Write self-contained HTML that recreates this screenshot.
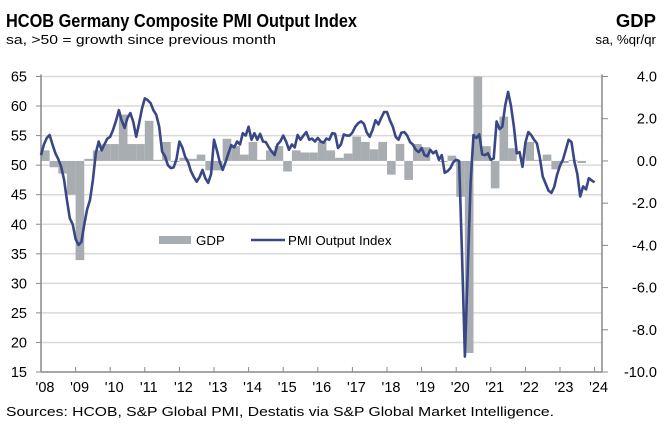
<!DOCTYPE html>
<html><head><meta charset="utf-8"><style>
body{margin:0;background:#fff;}
svg text{font-family:"Liberation Sans",Arial,sans-serif;fill:#000;}
</style></head><body>
<svg id="chart" width="664" height="435" viewBox="0 0 664 435" xmlns="http://www.w3.org/2000/svg">
<text x="6" y="27" font-size="18.5" font-weight="bold" textLength="351" lengthAdjust="spacingAndGlyphs">HCOB Germany Composite PMI Output Index</text>
<text x="6" y="44" font-size="13.3" textLength="270" lengthAdjust="spacingAndGlyphs">sa, &gt;50 = growth since previous month</text>
<text x="656" y="27" font-size="18.5" font-weight="bold" text-anchor="end">GDP</text>
<text x="656" y="44" font-size="13.3" text-anchor="end">sa, %qr/qr</text>
<g id="grid"></g><g id="bars"></g><g id="axes"></g><g id="line"></g><g id="legend"></g>
<text x="6" y="416" font-size="13.3" textLength="548" lengthAdjust="spacingAndGlyphs">Sources: HCOB, S&amp;P Global PMI, Destatis via S&amp;P Global Market Intelligence.</text>
</svg>
<script>
const yearLabels=["'08","'09","'10","'11","'12","'13","'14","'15","'16","'17","'18","'19","'20","'21","'22","'23","'24"];
const leftTicks=[15,20,25,30,35,40,45,50,55,60,65];
const rightTicks=[-10,-8,-6,-4,-2,0,2,4];
const rightTickLabels=["-10.0","-8.0","-6.0","-4.0","-2.0","0.0","2.0","4.0"];
const pmi=[
51.7,53.5,54.6,55.1,53.5,52.0,51.0,49.7,47.5,44.0,41.0,40.0,
37.5,36.5,37.0,40.0,42.5,44.1,47.5,52.0,54.0,52.5,53.5,54.5,
54.8,56.0,57.5,59.3,57.5,56.3,58.0,58.8,57.3,54.8,57.0,59.5,
61.3,61.0,60.5,59.3,58.5,56.5,52.3,51.5,50.0,49.5,49.6,51.0,
54.0,53.0,51.4,50.5,49.0,48.0,47.2,48.0,49.2,47.8,47.0,48.5,
54.3,52.5,50.5,49.2,50.5,52.0,53.4,53.0,54.0,53.5,55.4,55.0,
56.5,54.3,55.4,54.3,55.3,54.0,53.9,53.0,52.3,51.7,53.5,54.0,
55.0,54.0,52.6,53.5,53.0,55.1,54.3,55.0,55.6,54.3,54.5,54.0,
54.6,54.0,53.8,54.5,54.3,55.4,55.3,52.9,53.5,55.2,55.0,55.0,
55.5,56.5,57.1,57.4,57.0,55.5,54.8,56.0,57.6,56.9,58.0,59.0,
59.0,57.6,56.5,54.8,54.3,55.5,55.6,55.0,53.9,53.5,52.6,52.2,
52.9,51.7,51.5,52.6,52.0,52.4,50.9,51.7,48.7,49.0,49.5,50.5,
50.9,50.7,35.0,17.6,32.0,47.0,55.1,54.6,55.2,51.8,51.7,52.0,
50.9,51.1,57.4,56.1,56.5,60.1,62.4,60.0,56.5,52.0,52.2,49.7,
53.8,55.6,55.1,54.3,53.7,51.3,48.1,46.9,45.7,45.3,46.3,48.4,
49.9,50.9,52.6,54.3,53.9,50.6,48.5,44.7,46.4,45.9,47.8,47.4,
47.1];
const gdp=[
0.5,-0.3,-0.6,-1.6,
-4.7,0.1,0.5,0.8,
0.8,2.2,0.8,0.8,
1.9,0.05,0.9,-0.05,
0.15,0.1,0.3,-0.45,
-0.45,1.05,0.7,0.3,
0.9,0.05,0.5,0.7,
-0.5,0.5,0.4,0.4,
0.9,0.5,0.15,0.35,
1.15,0.9,0.55,0.9,
-0.65,0.8,-0.9,0.8,
0.65,0.0,-0.05,0.25,
-1.7,-9.1,9.0,0.7,
-1.3,2.1,0.6,0.0,
0.9,0.05,0.3,-0.4,
-0.1,0.05,-0.1];

const NS="http://www.w3.org/2000/svg";
const X0=41,YR=34.6,TOP=76.5,BOT=372,RIGHT=602;
const x=t=>X0+t*YR;
const yL=v=>TOP+(65-v)*(BOT-TOP)/50;
const yR=v=>TOP+(4-v)*(BOT-TOP)/14;
function mk(tag,attrs,parent){const e=document.createElementNS(NS,tag);for(const k in attrs)e.setAttribute(k,attrs[k]);parent.appendChild(e);return e;}
const grid=document.getElementById('grid'),axes=document.getElementById('axes'),bars=document.getElementById('bars'),line=document.getElementById('line'),legend=document.getElementById('legend');

leftTicks.forEach(v=>{
  if(v>15){const g=mk('line',{x1:X0,x2:RIGHT,y1:yL(v),y2:yL(v),stroke:'#d9d9d9','stroke-width':1.5},grid);
  
  }
  const tk=mk('line',{x1:X0-5,x2:X0,y1:yL(v),y2:yL(v),stroke:'#888','stroke-width':1},axes);
  
  
  const t=mk('text',{x:27,y:yL(v)+5,'font-size':14.5,'text-anchor':'end'},axes);t.textContent=v;
  
  
});
rightTicks.forEach((v,i)=>{
  const tk=mk('line',{x1:RIGHT,x2:RIGHT+6,y1:yR(v),y2:yR(v),stroke:'#888','stroke-width':1},axes);
  
  
  const t=mk('text',{x:657,y:yR(v)+5,'font-size':14.5,'text-anchor':'end'},axes);t.textContent=rightTickLabels[i];
  
  
});
const la=mk('line',{x1:X0,x2:X0,y1:TOP-2,y2:BOT,stroke:'#888','stroke-width':1.5},axes);


const ra=mk('line',{x1:RIGHT,x2:RIGHT,y1:TOP-2,y2:BOT,stroke:'#888','stroke-width':1.5},axes);


const xa=mk('line',{x1:X0,x2:RIGHT,y1:BOT,y2:BOT,stroke:'#888','stroke-width':1.5},axes);


yearLabels.forEach((l,i)=>{
  const tk=mk('line',{x1:x(i),x2:x(i),y1:BOT-5,y2:BOT,stroke:'#888','stroke-width':1},axes);
  
  
  const t=mk('text',{x:x(i)+4,y:392,'font-size':14.5,'text-anchor':'middle'},axes);t.textContent=l;
  
  
});
gdp.forEach((v,i)=>{
  const x1=x(i/4),x2=x((i+1)/4);
  const vv=Math.max(-10,Math.min(4,v));
  const y0=yR(0),y1=yR(vv);
  const r=mk('rect',{x:x1,width:x2-x1,y:Math.min(y0,y1),height:Math.abs(y1-y0),fill:'#a8adb2'},bars);
  
  
});
const pts=pmi.map((v,i)=>x(i/12).toFixed(1)+','+yL(v).toFixed(1)).join(' ');
const pl=mk('polyline',{points:pts,fill:'none',stroke:'#3a4785','stroke-width':2.6,'stroke-linejoin':'round'},line);



const lr=mk('rect',{x:159,y:236,width:32,height:8,fill:'#a8adb2'},legend);


const lt=mk('text',{x:196,y:245,'font-size':13.3},legend);lt.textContent='GDP';


const ll=mk('line',{x1:251,x2:285,y1:240,y2:240,stroke:'#3a4785','stroke-width':2.6},legend);


const lt2=mk('text',{x:288,y:245,'font-size':13.3},legend);lt2.textContent='PMI Output Index';


</script>
</body></html>
